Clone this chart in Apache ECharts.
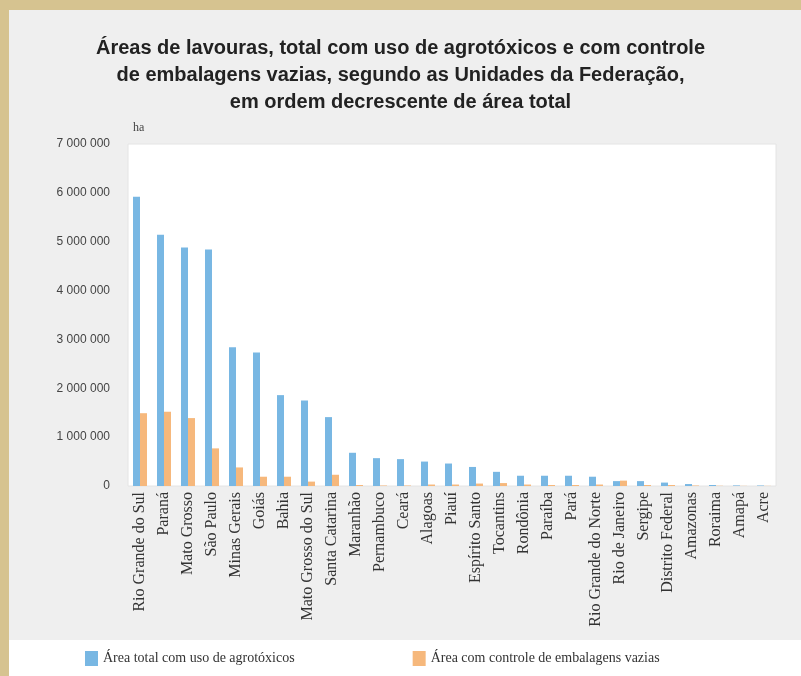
<!DOCTYPE html>
<html>
<head>
<meta charset="utf-8">
<script src="https://cdn.jsdelivr.net/npm/echarts@6/dist/echarts.min.js"></script>
<style>
  html, body { margin: 0; padding: 0; }
  #chart { width: 801px; height: 676px; }
</style>
</head>
<body>
<div id="chart"></div>
<script>
// estados em ordem decrescente de área total
const estados = [
  "Rio Grande do Sul", "Paraná", "Mato Grosso", "São Paulo", "Minas Gerais",
  "Goiás", "Bahia", "Mato Grosso do Sul", "Santa Catarina", "Maranhão",
  "Pernambuco", "Ceará", "Alagoas", "Piauí", "Espírito Santo", "Tocantins",
  "Rondônia", "Paraíba", "Pará", "Rio Grande do Norte", "Rio de Janeiro",
  "Sergipe", "Distrito Federal", "Amazonas", "Roraima", "Amapá", "Acre"
];
// hectares
const areaTotal = [
  5920000, 5140000, 4880000, 4840000, 2840000,
  2730000, 1860000, 1750000, 1410000, 680000,
  570000, 550000, 500000, 460000, 390000, 290000,
  210000, 210000, 210000, 190000, 100000,
  100000, 70000, 40000, 20000, 12000, 10000
];
const areaEmbalagens = [
  1490000, 1520000, 1390000, 770000, 380000,
  190000, 190000, 90000, 230000, 20000,
  10000, 10000, 30000, 30000, 50000, 60000,
  30000, 20000, 20000, 30000, 110000,
  20000, 20000, 10000, 5000, 3000, 3000
];
const legendNames = ["Área total com uso de agrotóxicos", "Área com controle de embalagens vazias"];
const titulo = "Áreas de lavouras, total com uso de agrotóxicos e com controle\nde embalagens vazias, segundo as Unidades da Federação,\nem ordem decrescente de área total";

const chart = echarts.init(document.getElementById("chart"));

function fmt(v) {
  return String(v).replace(/\B(?=(\d{3})+(?!\d))/g, " ");
}

const option = {
  backgroundColor: "#d6c390",
  animation: false,
  graphic: [
    // painel cinza
    { type: "rect", shape: { x: 9, y: 10, width: 792, height: 630 }, style: { fill: "#efefef" }, z: -10 },
    // faixa branca da legenda
    { type: "rect", shape: { x: 9, y: 640, width: 792, height: 36 }, style: { fill: "#ffffff" }, z: -10 }
  ],
  title: {
    text: titulo,
    left: "center",
    top: 30,
    textStyle: {
      fontFamily: "Liberation Sans",
      fontSize: 20,
      fontWeight: "bold",
      color: "#222",
      lineHeight: 27
    }
  },
  legend: {
    data: legendNames,
    bottom: 5,
    left: 80,
    itemWidth: 13,
    itemHeight: 15,
    itemGap: 118,
    icon: "rect",
    textStyle: {
      fontFamily: "Liberation Serif",
      fontSize: 14,
      color: "#333"
    }
  },
  grid: {
    show: true,
    left: 128,
    right: 25,
    top: 144,
    bottom: 190,
    backgroundColor: "#ffffff",
    borderColor: "#e4e4e4",
    borderWidth: 1
  },
  xAxis: {
    type: "category",
    data: estados,
    axisLine: { show: false },
    axisTick: { show: false },
    axisLabel: {
      interval: 0,
      rotate: 90,
      margin: 6,
      fontFamily: "Liberation Serif",
      fontSize: 16,
      color: "#333"
    }
  },
  yAxis: {
    type: "value",
    min: 0,
    max: 7000000,
    interval: 1000000,
    name: "ha",
    nameLocation: "end",
    nameGap: 10,
    nameTextStyle: {
      align: "left",
      padding: [0, 0, 0, 5],
      fontFamily: "Liberation Serif",
      fontSize: 12,
      color: "#444"
    },
    splitLine: { show: false },
    axisLine: { show: false },
    axisTick: { show: false },
    axisLabel: {
      margin: 18,
      fontFamily: "Liberation Sans",
      fontSize: 12,
      color: "#444",
      formatter: fmt
    }
  },
  series: [
    {
      name: legendNames[0],
      type: "bar",
      data: areaTotal,
      barWidth: 7,
      barGap: "0%",
      itemStyle: { color: "#78b7e3" }
    },
    {
      name: legendNames[1],
      type: "bar",
      data: areaEmbalagens,
      barWidth: 7,
      itemStyle: { color: "#f6b87c" }
    }
  ]
};

chart.setOption(option);
</script>
</body>
</html>
